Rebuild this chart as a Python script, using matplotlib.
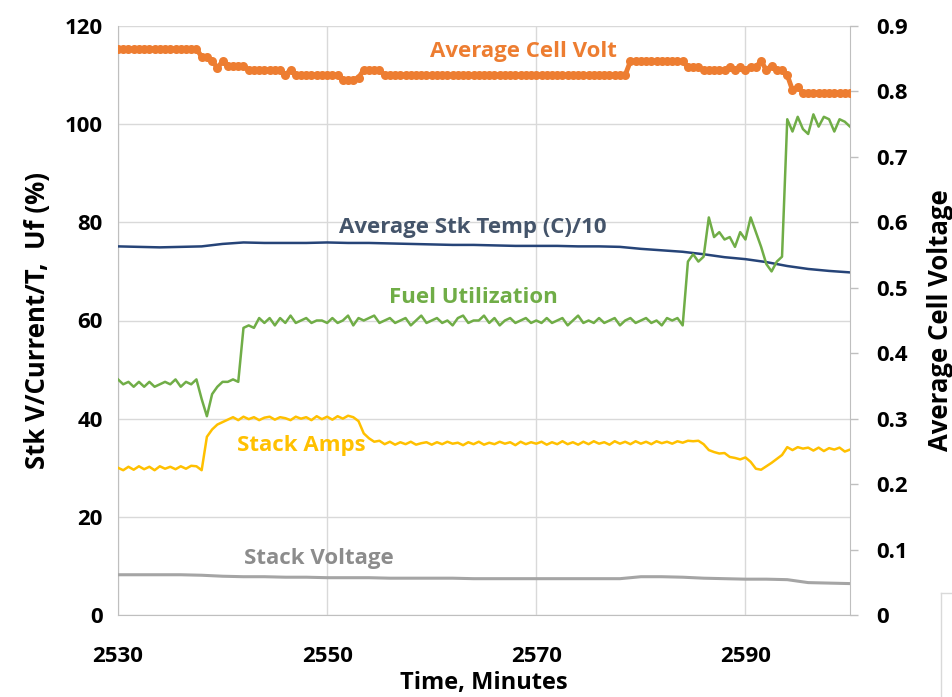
import numpy as np
import matplotlib
matplotlib.use("Agg")
import matplotlib.pyplot as plt
from matplotlib.lines import Line2D

plt.rcParams['font.family'] = ['Open Sans', 'DejaVu Sans']

# ---------------- data ----------------
t_fast = np.arange(2530, 2600.01, 0.5)          # 0.5-minute samples
t_slow = np.arange(2530, 2600.01, 2.0)          # 2-minute samples

fuel_util = [
    48, 47, 47.5, 46.5, 47.5, 46.5, 47.5, 46.5, 47, 47.5,
    47, 48, 46.5, 47.5, 47, 48, 44, 40.5, 45, 46.5,
    47.5, 47.5, 48, 47.5, 58.5, 59, 58.5, 60.5, 59.5, 60.5,
    59, 60.5, 59.5, 61, 59.5, 60, 60.5, 59.5, 60, 60,
    59.5, 60.5, 59.5, 60, 61, 59, 60.5, 60, 60.5, 61,
    59.5, 60, 60.5, 59.5, 60, 60.5, 59, 60, 61, 59.5,
    60, 60.5, 59.5, 60, 59, 60.5, 61, 59.5, 60, 60,
    61, 59.5, 60.5, 59, 60, 60.5, 59.5, 60, 60.5, 59.5,
    60, 59.5, 60.5, 59.5, 60, 60.5, 59, 60, 61, 59.5,
    60, 59.5, 60.5, 59.5, 60, 60.5, 59, 60, 60.5, 59.5,
    60, 60.5, 59.5, 60, 59, 60.5, 60, 60.5, 59, 72,
    73.5, 72, 73, 81, 77, 78, 76.5, 77, 75, 78,
    76.5, 81, 78, 75, 71.5, 70, 72, 73, 101, 98.5,
    101.5, 99, 98, 102, 99.5, 101.5, 101, 98.5, 101, 100.5, 99.5,
]

stack_amps = [
    30, 29.5, 30.2, 29.6, 30.3, 29.7, 30.2, 29.5, 30.3, 29.8,
    30.2, 29.7, 30.3, 29.8, 30.4, 30.3, 29.5, 36.3, 37.8, 38.8,
    39.3, 39.8, 40.3, 39.7, 40.4, 39.9, 40.3, 39.7, 40.2, 40.4,
    39.8, 40.3, 40.1, 39.7, 40.4, 40, 40.3, 39.7, 40.5, 39.9,
    40.4, 39.8, 40.5, 40, 40.6, 40.3, 39.5, 37, 36, 35.3,
    35.5, 34.8, 35.3, 34.7, 35.2, 34.8, 35.3, 34.7, 35, 35.2,
    34.7, 35.2, 34.8, 35.3, 34.9, 35.1, 34.6, 35.2, 34.8, 35.3,
    34.7, 35.1, 34.8, 35.3, 34.9, 35.2, 34.6, 35.3, 34.8, 35.2,
    34.9, 35.3, 34.7, 35.2, 34.8, 35.4, 34.8, 35.2, 34.7, 35.3,
    34.8, 35.4, 34.9, 35.2, 34.7, 35.4, 34.9, 35.3, 34.8, 35.4,
    34.9, 35.3, 34.8, 35.4, 35, 35.3, 34.9, 35.4, 35.1, 35.5,
    35.4, 35.5, 34.8, 33.6, 33.2, 32.9, 33.0, 32.2, 32.0, 31.7,
    32.1, 31.2, 29.8, 29.6, 30.3, 31.0, 31.8, 32.6, 34.2, 33.6,
    34.2, 33.9, 34.1, 33.5, 34.1, 33.4, 34.0, 33.7, 34.1, 33.3, 33.7,
]

cell_volt = ([0.865] * 16 + [0.853, 0.853, 0.847, 0.836, 0.846] + [0.839] * 4
             + [0.833] * 6 + [0.833, 0.825, 0.833, 0.825] + [0.825] * 8
             + [0.818] * 3 + [0.821] + [0.833] * 4 + [0.825] * 47
             + [0.846] * 11 + [0.837] * 3 + [0.833] * 5
             + [0.838, 0.833, 0.838, 0.833, 0.838, 0.838, 0.846, 0.833, 0.839]
             + [0.833] * 2 + [0.825, 0.802, 0.807] + [0.798] * 10)

stk_temp = [
    75.1, 75.0, 74.9, 75.0, 75.1, 75.6, 75.9, 75.8, 75.8, 75.8,
    75.9, 75.8, 75.8, 75.7, 75.6, 75.5, 75.4, 75.4, 75.3, 75.2,
    75.2, 75.2, 75.1, 75.1, 75.0, 74.6, 74.3, 74.0, 73.5, 72.9,
    72.5, 71.9, 71.1, 70.5, 70.1, 69.8,
]

stack_volt = [
    8.2, 8.2, 8.2, 8.2, 8.1, 7.9, 7.8, 7.8, 7.7, 7.7,
    7.6, 7.6, 7.6, 7.5, 7.5, 7.5, 7.5, 7.4, 7.4, 7.4,
    7.4, 7.4, 7.4, 7.4, 7.4, 7.8, 7.8, 7.7, 7.5, 7.4,
    7.3, 7.3, 7.2, 6.6, 6.5, 6.4,
]

x_ticks = [2530, 2550, 2570, 2590]
y_left_ticks = [0, 20, 40, 60, 80, 100, 120]
y_right_ticks = [0, 0.1, 0.2, 0.3, 0.4, 0.5, 0.6, 0.7, 0.8, 0.9]
y_right_labels = ['0', '0.1', '0.2', '0.3', '0.4', '0.5', '0.6', '0.7', '0.8', '0.9']

# ---------------- style ----------------
C_ORANGE = '#ED7D31'
C_GREEN = '#70AD47'
C_GOLD = '#FFC000'
C_NAVY = '#264478'
C_GRAY = '#A5A5A5'
C_GRID = '#D9D9D9'
C_SPINE = '#BFBFBF'

fig = plt.figure(figsize=(9.53, 6.97), dpi=100)
ax = fig.add_axes([118 / 953, 1 - 615 / 697, (850 - 118) / 953, (615 - 26) / 697])
ax2 = ax.twinx()

ax.plot(t_slow, stack_volt, color=C_GRAY, lw=2.2, zorder=3)
ax.plot(t_fast, stack_amps, color=C_GOLD, lw=1.8, zorder=3)
ax.plot(t_slow, stk_temp, color=C_NAVY, lw=1.8, zorder=3)
ax.plot(t_fast, fuel_util, color=C_GREEN, lw=1.8, zorder=4)
ax2.plot(t_fast, cell_volt, color=C_ORANGE, lw=3.5, marker='o', ms=6.5,
         markeredgewidth=0, zorder=5)

ax.set_xlim(2530, 2600)
ax.set_ylim(0, 120)
ax2.set_ylim(0, 0.9)

ax.set_xticks(x_ticks)
ax.set_yticks(y_left_ticks)
ax2.set_yticks(y_right_ticks)
ax2.set_yticklabels(y_right_labels)

ax.grid(True, color=C_GRID, lw=1.0, zorder=0)
ax.set_axisbelow(True)

for a in (ax, ax2):
    for s in a.spines.values():
        s.set_visible(False)
ax.spines['left'].set_visible(True)
ax.spines['left'].set_color(C_SPINE)
ax.spines['bottom'].set_visible(True)
ax.spines['bottom'].set_color(C_SPINE)
ax2.spines['right'].set_visible(True)
ax2.spines['right'].set_color(C_SPINE)

ax.tick_params(axis='x', length=0, pad=22, labelsize=16)
ax.tick_params(axis='y', length=0, pad=11, labelsize=16)
ax2.tick_params(axis='y', length=6, width=1, color=C_SPINE, pad=13, labelsize=16)
for lbl in ax.get_xticklabels() + ax.get_yticklabels() + ax2.get_yticklabels():
    lbl.set_fontweight('bold')

ax.set_xlabel('Time, Minutes', fontsize=17, fontweight='bold', labelpad=3)
ax.set_ylabel('Stk V/Current/T,  Uf (%)', fontsize=18.5, fontweight='bold', labelpad=10)
ax2.set_ylabel('Average Cell Voltage', fontsize=18.5, fontweight='bold', labelpad=14)

# series labels
lab = dict(fontsize=16, fontweight='bold', ha='center', va='center', zorder=6)
ax.text(2568.8, 114.9, 'Average Cell Volt', color=C_ORANGE, **lab)
ax.text(2563.9, 79.0, 'Average Stk Temp (C)/10', color='#44546A', **lab)
ax.text(2564.0, 64.7, 'Fuel Utilization', color=C_GREEN, **lab)
ax.text(2547.5, 34.5, 'Stack Amps', color=C_GOLD, **lab)
ax.text(2549.2, 11.6, 'Stack Voltage', color='#8C8C8C', **lab)

# small frame fragment at bottom-right corner
fig.add_artist(Line2D([941 / 953, 941 / 953], [0, 1 - 593 / 697], color=C_GRID, lw=1))
fig.add_artist(Line2D([941 / 953, 1], [1 - 593 / 697, 1 - 593 / 697], color=C_GRID, lw=1))

fig.savefig('out.png', dpi=100)
